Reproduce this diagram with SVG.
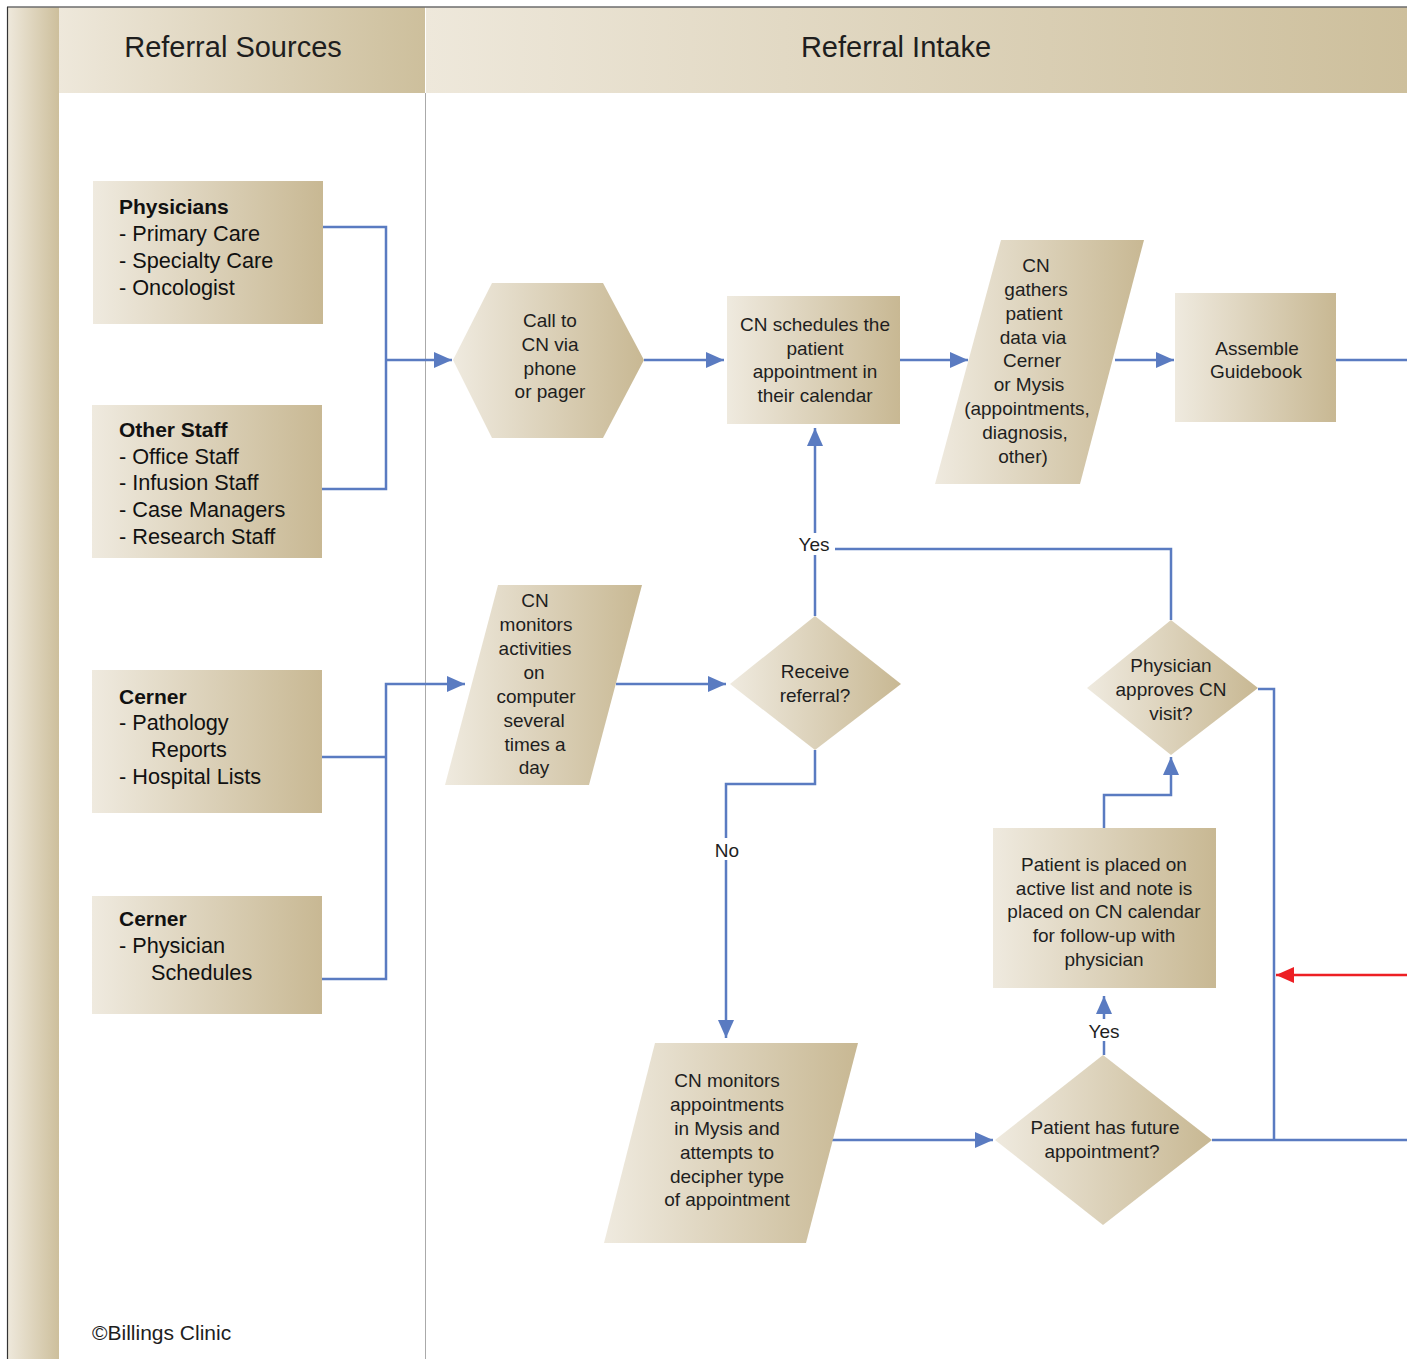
<svg xmlns="http://www.w3.org/2000/svg" width="1407" height="1359" viewBox="0 0 1407 1359">
<defs>
<linearGradient id="g" x1="0" y1="0" x2="1" y2="0">
<stop offset="0" stop-color="#efeadf"/>
<stop offset="1" stop-color="#c8b893"/>
</linearGradient>
<linearGradient id="gh" x1="0" y1="0" x2="1" y2="0">
<stop offset="0" stop-color="#eee8db"/>
<stop offset="1" stop-color="#cdbf9c"/>
</linearGradient>
<marker id="a" markerUnits="userSpaceOnUse" markerWidth="18" markerHeight="16" refX="18" refY="8" orient="auto">
<path d="M0,0 L18,8 L0,16 z" fill="#5a7bc1"/>
</marker>
<marker id="ar" markerUnits="userSpaceOnUse" markerWidth="18" markerHeight="16" refX="18" refY="8" orient="auto">
<path d="M0,0 L18,8 L0,16 z" fill="#ed1f24"/>
</marker>
</defs>
<style>
.n{fill:url(#g)}
.t{font-family:"Liberation Sans",Arial,sans-serif;font-size:19px;fill:#1e1e1e;text-anchor:middle}
.s{font-family:"Liberation Sans",Arial,sans-serif;font-size:21.7px;fill:#111}
.b{font-weight:bold;font-size:21px}
.h{font-family:"Liberation Sans",Arial,sans-serif;font-size:29px;fill:#1e1e1e;text-anchor:middle}
.c{fill:none;stroke:#5a7bc1;stroke-width:2.5}
.lbl{fill:#fff}
</style>
<rect width="1407" height="1359" fill="#fff"/>
<g id="frame">
<rect x="8" y="7" width="51" height="1352" fill="url(#gh)"/>
<rect x="59" y="7" width="366" height="86" fill="url(#gh)"/>
<rect x="426" y="7" width="981" height="86" fill="url(#gh)"/>
<line x1="425.5" y1="93" x2="425.5" y2="1359" stroke="#aaa" stroke-width="1"/>
<line x1="7" y1="7" x2="1407" y2="7" stroke="#6d6d6d" stroke-width="1.5"/>
<line x1="7.5" y1="7" x2="7.5" y2="1359" stroke="#333" stroke-width="1.2"/>
<text class="h" x="233" y="57">Referral Sources</text>
<text class="h" x="896" y="57">Referral Intake</text>
<text class="t" x="92" y="1340" style="text-anchor:start;font-size:21px">©Billings Clinic</text>
</g>
<g id="connectors">
<path class="c" d="M323,227 H386 V489 H322"/>
<path class="c" d="M386,360 H452" marker-end="url(#a)"/>
<path class="c" d="M644,360 H724" marker-end="url(#a)"/>
<path class="c" d="M900,360 H968" marker-end="url(#a)"/>
<path class="c" d="M1115,360 H1174" marker-end="url(#a)"/>
<path class="c" d="M1336,360 H1407"/>
<path class="c" d="M322,757 H386"/>
<path class="c" d="M322,979 H386 V684 H465" marker-end="url(#a)"/>
<path class="c" d="M616,684 H726" marker-end="url(#a)"/>
<path class="c" d="M815,616 V428" marker-end="url(#a)"/>
<path class="c" d="M1171,620 V549 H815"/>
<path class="c" d="M815,750 V784 H726 V1038" marker-end="url(#a)"/>
<path class="c" d="M832,1140 H993" marker-end="url(#a)"/>
<path class="c" d="M1104,1055 V996" marker-end="url(#a)"/>
<path class="c" d="M1104,828 V795 H1171 V757" marker-end="url(#a)"/>
<path class="c" d="M1258,689 H1274 V1140"/>
<path class="c" d="M1212,1140 H1407"/>
<path d="M1407,975 H1276" fill="none" stroke="#ed1f24" stroke-width="2.5" marker-end="url(#ar)"/>
<rect class="lbl" x="795" y="533" width="40" height="22"/>
<text class="t" x="814" y="551">Yes</text>
<rect class="lbl" x="710" y="838" width="34" height="22"/>
<text class="t" x="727" y="857">No</text>
<rect class="lbl" x="1084" y="1019" width="40" height="22"/>
<text class="t" x="1104" y="1038">Yes</text>
</g>
<g id="physicians">
<rect class="n" x="93" y="181" width="230" height="143"/>
<text class="s b" x="119" y="214">Physicians</text>
<text class="s" x="119" y="241">- Primary Care</text>
<text class="s" x="119" y="268">- Specialty Care</text>
<text class="s" x="119" y="295">- Oncologist</text>
</g>
<g id="other-staff">
<rect class="n" x="92" y="405" width="230" height="153"/>
<text class="s b" x="119" y="437">Other Staff</text>
<text class="s" x="119" y="464">- Office Staff</text>
<text class="s" x="119" y="490">- Infusion Staff</text>
<text class="s" x="119" y="517">- Case Managers</text>
<text class="s" x="119" y="544">- Research Staff</text>
</g>
<g id="cerner-1">
<rect class="n" x="92" y="670" width="230" height="143"/>
<text class="s b" x="119" y="704">Cerner</text>
<text class="s" x="119" y="730">- Pathology</text>
<text class="s" x="151" y="757">Reports</text>
<text class="s" x="119" y="784">- Hospital Lists</text>
</g>
<g id="cerner-2">
<rect class="n" x="92" y="896" width="230" height="118"/>
<text class="s b" x="119" y="926">Cerner</text>
<text class="s" x="119" y="953">- Physician</text>
<text class="s" x="151" y="980">Schedules</text>
</g>
<g id="call">
<polygon class="n" points="453,360 492,283 603,283 644,360 603,438 492,438"/>
<text class="t" x="550" y="327">Call to</text>
<text class="t" x="550" y="351">CN via</text>
<text class="t" x="550" y="375">phone</text>
<text class="t" x="550" y="398">or pager</text>
</g>
<g id="schedules">
<rect class="n" x="727" y="296" width="173" height="128"/>
<text class="t" x="815" y="331">CN schedules the</text>
<text class="t" x="815" y="355">patient</text>
<text class="t" x="815" y="378">appointment in</text>
<text class="t" x="815" y="402">their calendar</text>
</g>
<g id="gathers">
<polygon class="n" points="1001,240 1144,240 1080,484 935,484"/>
<text class="t" x="1036" y="272">CN</text>
<text class="t" x="1036" y="296">gathers</text>
<text class="t" x="1034" y="320">patient</text>
<text class="t" x="1033" y="344">data via</text>
<text class="t" x="1032" y="367">Cerner</text>
<text class="t" x="1029" y="391">or Mysis</text>
<text class="t" x="1027" y="415">(appointments,</text>
<text class="t" x="1025" y="439">diagnosis,</text>
<text class="t" x="1023" y="463">other)</text>
</g>
<g id="guidebook">
<rect class="n" x="1175" y="293" width="161" height="129"/>
<text class="t" x="1257" y="355">Assemble</text>
<text class="t" x="1256" y="378">Guidebook</text>
</g>
<g id="monitors-activities">
<polygon class="n" points="498,585 642,585 589,785 445,785"/>
<text class="t" x="535" y="607">CN</text>
<text class="t" x="536" y="631">monitors</text>
<text class="t" x="535" y="655">activities</text>
<text class="t" x="534" y="679">on</text>
<text class="t" x="536" y="703">computer</text>
<text class="t" x="534" y="727">several</text>
<text class="t" x="535" y="751">times a</text>
<text class="t" x="534" y="774">day</text>
</g>
<g id="receive">
<polygon class="n" points="730,684 815,616 901,684 815,750"/>
<text class="t" x="815" y="678">Receive</text>
<text class="t" x="815" y="702">referral?</text>
</g>
<g id="approves">
<polygon class="n" points="1087,688 1171,620 1258,688 1171,755"/>
<text class="t" x="1171" y="672">Physician</text>
<text class="t" x="1171" y="696">approves CN</text>
<text class="t" x="1171" y="720">visit?</text>
</g>
<g id="active-list">
<rect class="n" x="993" y="828" width="223" height="160"/>
<text class="t" x="1104" y="871">Patient is placed on</text>
<text class="t" x="1104" y="895">active list and note is</text>
<text class="t" x="1104" y="918">placed on CN calendar</text>
<text class="t" x="1104" y="942">for follow-up with</text>
<text class="t" x="1104" y="966">physician</text>
</g>
<g id="monitors-appointments">
<polygon class="n" points="655,1043 858,1043 806,1243 604,1243"/>
<text class="t" x="727" y="1087">CN monitors</text>
<text class="t" x="727" y="1111">appointments</text>
<text class="t" x="727" y="1135">in Mysis and</text>
<text class="t" x="727" y="1159">attempts to</text>
<text class="t" x="727" y="1183">decipher type</text>
<text class="t" x="727" y="1206">of appointment</text>
</g>
<g id="future">
<polygon class="n" points="995,1140 1103,1055 1212,1140 1103,1225"/>
<text class="t" x="1105" y="1134">Patient has future</text>
<text class="t" x="1102" y="1158">appointment?</text>
</g>
</svg>
